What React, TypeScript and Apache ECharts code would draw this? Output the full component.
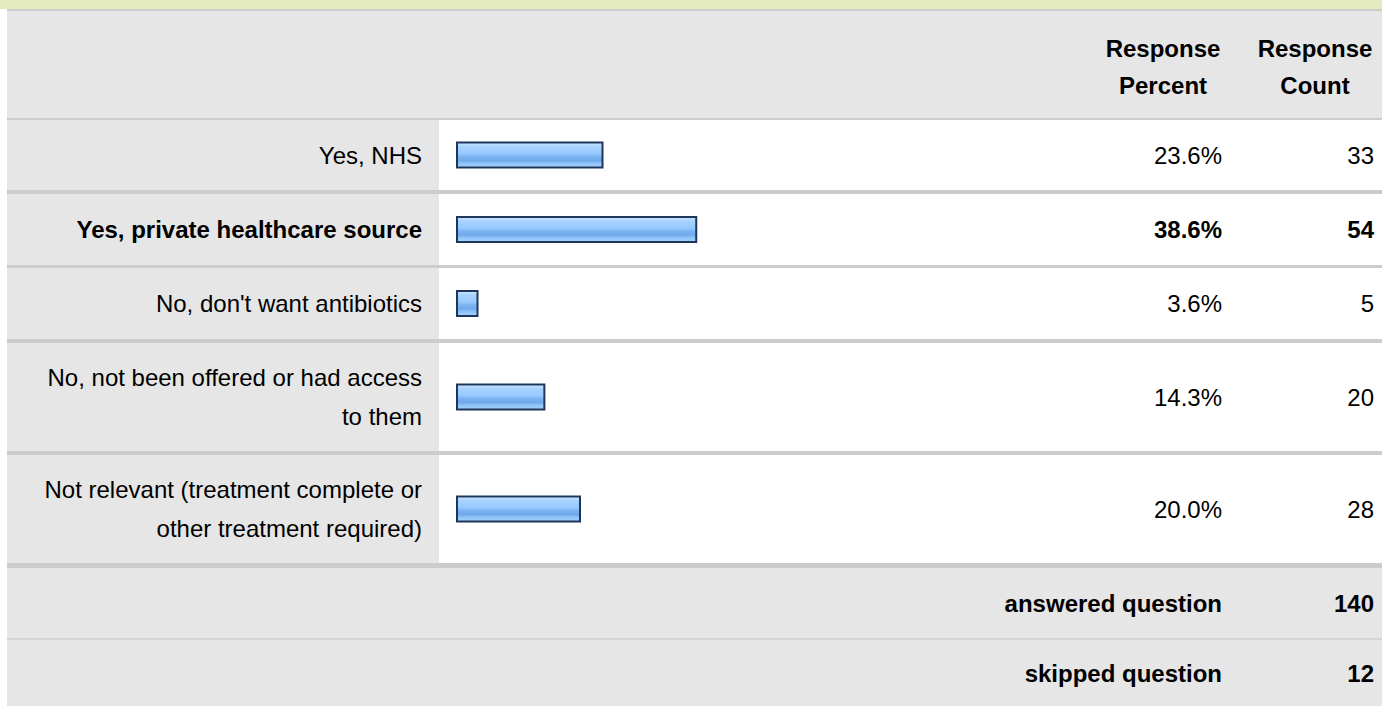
import React, { useEffect, useRef } from "react";
import * as echarts from "echarts";

const categories = [
  "Yes, NHS",
  "Yes, private healthcare source",
  "No, don't want antibiotics",
  "No, not been offered or had access\nto them",
  "Not relevant (treatment complete or\nother treatment required)",
];
const percents = [23.6, 38.6, 3.6, 14.3, 20.0];
const counts = [33, 54, 5, 20, 28];
const headerLabels = ["Response\nPercent", "Response\nCount"];
const footerLabels = ["answered question", "skipped question"];
const footerValues = [140, 12];

// layout (pixels)
const W = 1382;
const H = 706;
const LEFT = 7;
const LABEL_RIGHT = 439;
const rowTops = [120, 194, 268, 343, 455];
const rowBottoms = [190, 265, 339, 451, 563];
const seps = [
  [9, 2],
  [118, 2],
  [190, 4],
  [265, 3],
  [339, 4],
  [451, 4],
  [563, 5],
];
const FONT = '"Liberation Sans", Arial, Helvetica, sans-serif';
const FS = 24;
const PCT_X = 1222;
const CNT_X = 1374;

export default function App() {
  const ref = useRef<HTMLDivElement>(null);
  useEffect(() => {
    if (!ref.current) return;
    const chart = echarts.init(ref.current, undefined, { renderer: "svg" });
    const maxPct = Math.max(...percents);
    const graphic: any[] = [];
    graphic.push({ type: "rect", shape: { x: 0, y: 0, width: W, height: 9 }, style: { fill: "#e4ebc1" }, z: 0 });
    graphic.push({ type: "rect", shape: { x: LEFT, y: 11, width: W - LEFT, height: 107 }, style: { fill: "#e6e6e6" }, z: 0 });
    rowTops.forEach((t, i) => {
      const b = rowBottoms[i];
      graphic.push({ type: "rect", shape: { x: LEFT, y: t, width: LABEL_RIGHT - LEFT, height: b - t }, style: { fill: "#e6e6e6" }, z: 0 });
      graphic.push({ type: "rect", shape: { x: LABEL_RIGHT, y: t, width: W - LABEL_RIGHT, height: b - t }, style: { fill: "#ffffff" }, z: 0 });
    });
    graphic.push({ type: "rect", shape: { x: LEFT, y: 568, width: W - LEFT, height: H - 568 }, style: { fill: "#e6e6e6" }, z: 0 });
    graphic.push({ type: "rect", shape: { x: LEFT, y: 638, width: W - LEFT, height: 2 }, style: { fill: "#d4d4d4" }, z: 1 });
    seps.forEach(([y, h]) => {
      graphic.push({ type: "rect", shape: { x: LEFT, y, width: W - LEFT, height: h }, style: { fill: "#cccccc" }, z: 1 });
    });
    const headerX = [1163, 1315];
    headerLabels.forEach((t, i) => {
      graphic.push({
        type: "text",
        x: headerX[i],
        y: 67,
        z: 5,
        style: { text: t, align: "center", verticalAlign: "middle", font: `bold ${FS}px ${FONT}`, lineHeight: 37, fill: "#000" },
      });
    });
    categories.forEach((c, i) => {
      const cy = (rowTops[i] + rowBottoms[i]) / 2;
      const bold = percents[i] === maxPct;
      const font = `${bold ? "bold " : ""}${FS}px ${FONT}`;
      graphic.push({ type: "text", x: 422, y: cy, z: 5, style: { text: c, align: "right", verticalAlign: "middle", font, lineHeight: 39, fill: "#000" } });
      graphic.push({ type: "text", x: PCT_X, y: cy, z: 5, style: { text: percents[i].toFixed(1) + "%", align: "right", verticalAlign: "middle", font, fill: "#000" } });
      graphic.push({ type: "text", x: CNT_X, y: cy, z: 5, style: { text: String(counts[i]), align: "right", verticalAlign: "middle", font, fill: "#000" } });
    });
    const footerY = [603, 673];
    footerLabels.forEach((t, i) => {
      const font = `bold ${FS}px ${FONT}`;
      graphic.push({ type: "text", x: PCT_X, y: footerY[i], z: 5, style: { text: t, align: "right", verticalAlign: "middle", font, fill: "#000" } });
      graphic.push({ type: "text", x: CNT_X, y: footerY[i], z: 5, style: { text: String(footerValues[i]), align: "right", verticalAlign: "middle", font, fill: "#000" } });
    });

    const barFill = new echarts.graphic.LinearGradient(0, 0, 0, 1, [
      { offset: 0, color: "#d2e9ff" },
      { offset: 0.15, color: "#a9d3ff" },
      { offset: 0.45, color: "#96c9ff" },
      { offset: 0.55, color: "#7db5f2" },
      { offset: 0.72, color: "#6fa9ea" },
      { offset: 0.82, color: "#8dc2f9" },
      { offset: 1, color: "#a6d2ff" },
    ]);

    const grids = rowTops.map((t, i) => ({ left: 456, width: 625, top: t, height: rowBottoms[i] - t }));
    const xAxes = rowTops.map((_, i) => ({ type: "value", gridIndex: i, min: 0, max: 100, show: false }));
    const yAxes = rowTops.map((_, i) => ({ type: "category", gridIndex: i, data: [categories[i]], show: false }));
    const series = rowTops.map((_, i) => ({
      type: "bar",
      xAxisIndex: i,
      yAxisIndex: i,
      data: [percents[i]],
      barWidth: 27,
      silent: true,
      z: 3,
      itemStyle: { color: barFill, borderColor: "#1d3659", borderWidth: 2 },
    }));

    chart.setOption({
      animation: false,
      backgroundColor: "#ffffff",
      grid: grids,
      xAxis: xAxes,
      yAxis: yAxes,
      series,
      graphic: { elements: graphic },
    });
    return () => chart.dispose();
  }, []);
  return <div ref={ref} style={{ position: "absolute", left: 0, top: 0, width: W, height: H }} />;
}
